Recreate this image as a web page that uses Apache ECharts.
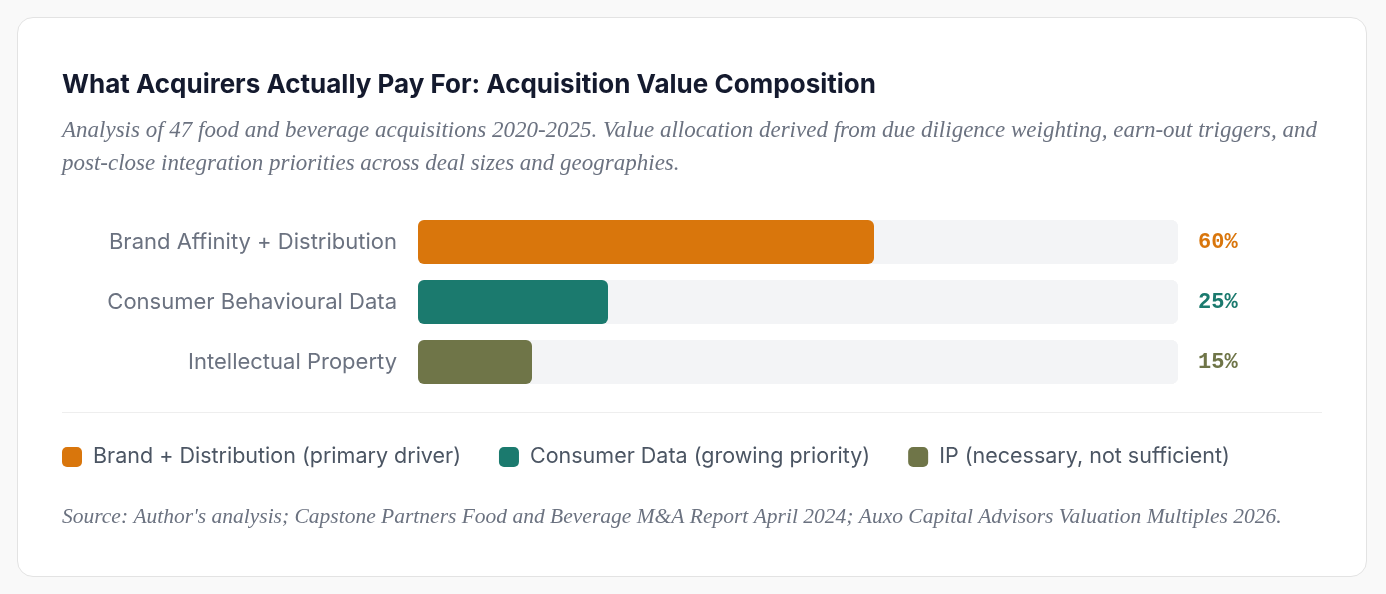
<!DOCTYPE html>
<html>
<head>
<meta charset="utf-8">
<script src="https://cdn.jsdelivr.net/npm/echarts@6/dist/echarts.min.js"></script>
<style>
  html, body { margin: 0; padding: 0; background: #f9f9f9; }
  #card {
    position: absolute; left: 17px; top: 17px; width: 1348px; height: 558px;
    background: #fff; border: 1px solid #e3e3e3; border-radius: 16px;
  }
  #chart { position: absolute; left: 0; top: 0; width: 1386px; height: 594px; }
</style>
</head>
<body>
<div id="card"></div>
<div id="chart"></div>
<script>
'use strict';

// data
const categories = ['Brand Affinity + Distribution', 'Consumer Behavioural Data', 'Intellectual Property'];
const shares = [60, 25, 15];
const legendNames = ['Brand + Distribution (primary driver)', 'Consumer Data (growing priority)', 'IP (necessary, not sufficient)'];
const colors = ['#d9760c', '#1b7a6e', '#6f7548'];

const titleText = 'What Acquirers Actually Pay For: Acquisition Value Composition';
const subtitleLines = [
  'Analysis of 47 food and beverage acquisitions 2020-2025. Value allocation derived from due diligence weighting, earn-out triggers, and',
  'post-close integration priorities across deal sizes and geographies.'
];
const sourceText = "Source: Author's analysis; Capstone Partners Food and Beverage M&A Report April 2024; Auxo Capital Advisors Valuation Multiples 2026.";

const sansFont = 'Inter, "Noto Sans", sans-serif';
const serifFont = '"Liberation Serif", "DejaVu Serif", serif';
const monoFont = '"Liberation Mono", "DejaVu Sans Mono", monospace';

// one series per category so each gets a legend entry
const series = categories.map(function(cat, i) {
  const data = categories.map(function(c, j) { return j === i ? shares[i] : '-'; });
  return {
    name: legendNames[i],
    type: 'bar',
    data: data,
    barWidth: 44,
    barGap: '-100%',
    showBackground: true,
    backgroundStyle: { color: '#f3f4f6', borderRadius: 7 },
    itemStyle: { color: colors[i], borderRadius: 6 },
    animation: false
  };
});

const chart = echarts.init(document.getElementById('chart'));
chart.setOption({
  backgroundColor: 'transparent',
  title: {
    text: titleText,
    left: 62, top: 72, padding: 0,
    textStyle: { fontFamily: sansFont, fontSize: 26, fontWeight: 700, color: '#141a2e' }
  },
  graphic: [
    {
      type: 'text', left: 62, top: 114,
      style: {
        text: subtitleLines.join('\n'),
        font: 'italic 23px ' + serifFont,
        lineHeight: 33, fill: '#6b7280'
      }
    },
    {
      type: 'line', shape: { x1: 62, y1: 412.5, x2: 1322, y2: 412.5 },
      style: { stroke: '#eeeeee', lineWidth: 1 }
    },
    {
      type: 'text', left: 62, top: 506,
      style: { text: sourceText, font: 'italic 21.5px ' + serifFont, fill: '#6b7280' }
    }
  ],
  legend: {
    left: 62, top: 446, padding: 0,
    itemWidth: 20, itemHeight: 20, itemGap: 38,
    icon: 'roundRect',
    data: legendNames,
    selectedMode: false,
    textStyle: { fontFamily: sansFont, fontSize: 21.5, color: '#4b5563', padding: [0, 0, 0, 6] }
  },
  grid: { left: 418, right: 208, top: 212, height: 180 },
  xAxis: { type: 'value', min: 0, max: 100, show: false },
  yAxis: [
    {
      type: 'category', data: categories, inverse: true,
      axisLine: { show: false }, axisTick: { show: false },
      axisLabel: { margin: 21, fontFamily: sansFont, fontSize: 22, color: '#6b7280' }
    },
    {
      type: 'category', data: shares.map(function(v) { return v + '%'; }), inverse: true,
      position: 'right',
      axisLine: { show: false }, axisTick: { show: false },
      axisLabel: {
        margin: 20, fontFamily: monoFont, fontSize: 22, fontWeight: 700,
        color: function(v, i) { return colors[i]; }
      }
    }
  ],
  series: series
});
</script>
</body>
</html>
